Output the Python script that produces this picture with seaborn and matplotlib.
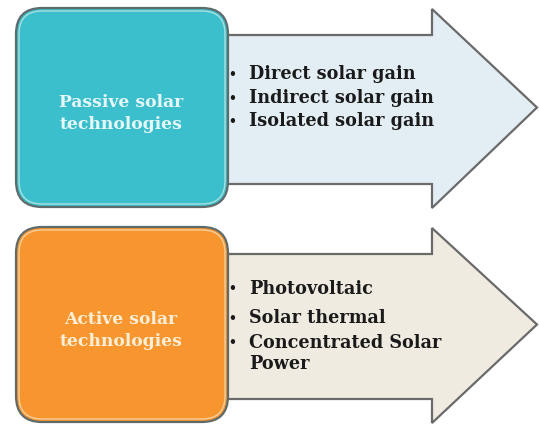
import matplotlib
matplotlib.use("Agg")
import matplotlib.pyplot as plt
from matplotlib.patches import FancyBboxPatch, Polygon
import seaborn as sns

sns.set_theme(style="white")
plt.rcParams['font.family'] = ['DejaVu Serif']

# diagram content
box_labels = ["Passive solar\ntechnologies", "Active solar\ntechnologies"]
bullet_items = [
    ["Direct solar gain", "Indirect solar gain", "Isolated solar gain"],
    ["Photovoltaic", "Solar thermal", "Concentrated Solar", "Power"],
]
has_bullet = [[True, True, True], [True, True, True, False]]
box_colors = ["#3cbfcc", "#f7952f"]
label_colors = ["#e6f7f7", "#fdeed6"]
arrow_colors = ["#e3edf4", "#efebe1"]

# layout in pixels (y down)
box_top = [8, 227]
box_bottom = [207, 422]
bullet_y = [[74, 98, 121], [289, 318, 343, 364]]

fig = plt.figure(figsize=(5.39, 4.25), dpi=100)
ax = fig.add_axes([0, 0, 1, 1])
ax.set_xlim(0, 539)
ax.set_ylim(425, 0)
ax.axis("off")

for i in range(2):
    top, bot = box_top[i], box_bottom[i]
    mid = (top + bot) / 2
    # arrow
    body_t, body_b = top + 27, bot - 23
    pts = [(226, body_t), (432, body_t), (432, top + 1), (537, mid),
           (432, bot + 1), (432, body_b), (226, body_b)]
    ax.add_patch(Polygon(pts, closed=True, facecolor=arrow_colors[i],
                         edgecolor="#6a6a6a", lw=1.6, zorder=1))
    # rounded box
    ax.add_patch(FancyBboxPatch((16, top), 212, bot - top,
                                boxstyle="round,pad=0,rounding_size=26",
                                facecolor=box_colors[i], edgecolor="#5f6b6b",
                                lw=1.6, zorder=2))
    ax.add_patch(FancyBboxPatch((19, top + 3), 206, bot - top - 6,
                                boxstyle="round,pad=0,rounding_size=23",
                                facecolor="none", edgecolor="#f2f6e8",
                                lw=1.0, alpha=0.6, zorder=3))
    ax.text(121, mid + 6, box_labels[i], ha="center", va="center",
            color=label_colors[i], fontsize=12.3, fontweight="bold",
            linespacing=1.45, zorder=4)
    for item, y, b in zip(bullet_items[i], bullet_y[i], has_bullet[i]):
        if b:
            ax.text(228, y, "\u2022", ha="left", va="center", fontsize=9,
                    fontweight="bold", color="#1a1a1a", zorder=4)
        ax.text(249, y, item, ha="left", va="center", fontsize=12.7,
                fontweight="bold", color="#1a1a1a", zorder=4)

fig.savefig("out.png", dpi=100)
